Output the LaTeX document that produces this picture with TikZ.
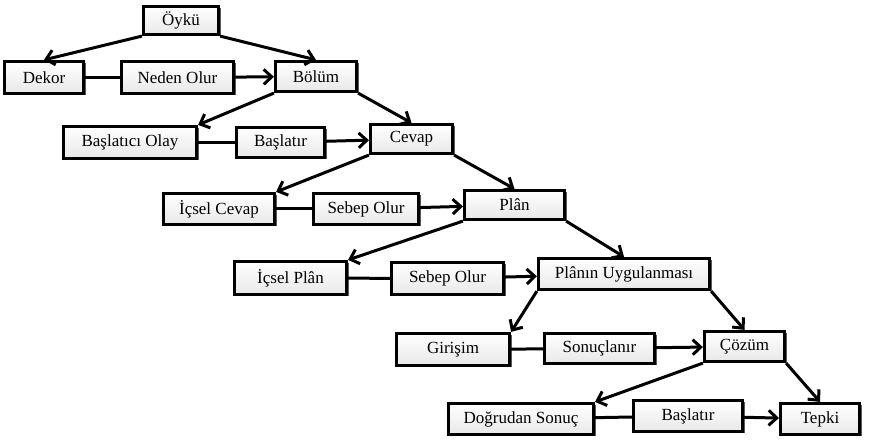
\documentclass[tikz,border=0pt]{standalone}
\usepackage{fontspec}
\setmainfont{Liberation Serif}
\usetikzlibrary{arrows.meta,shadows}

\begin{document}
\begin{tikzpicture}
        [x=1pt,y=-1pt,line width=3pt,
         every node/.style={draw,line width=3.2pt,inner sep=0pt,
           top color=white,bottom color=gray!18,
           drop shadow={shadow xshift=2pt,shadow yshift=-2pt,fill=black!65,opacity=1},
           font=\fontsize{17}{19}\selectfont},
         ok/.style={-{Straight Barb[length=8pt,width=15pt]}}]
        \useasboundingbox (0,0) rectangle (871,446);

        \node[minimum width=75pt,minimum height=28pt] (oyku) at (181,20.5) {Öykü};
        \node[minimum width=79pt,minimum height=32pt] (dekor) at (44,77.5) {Dekor};
        \node[minimum width=112pt,minimum height=32pt] (nedenolur) at (177.5,77.5) {Neden Olur};
        \node[minimum width=81pt,minimum height=30pt] (bolum) at (316,76.5) {Bölüm};
        \node[minimum width=133pt,minimum height=32pt] (baslaticiolay) at (130,142.5) {Başlatıcı Olay};
        \node[minimum width=88pt,minimum height=30pt] (baslatir1) at (280.5,142.5) {Başlatır};
        \node[minimum width=82pt,minimum height=29pt] (cevap) at (411.5,139) {Cevap};
        \node[minimum width=111pt,minimum height=31pt] (icselcevap) at (219,209) {İçsel Cevap};
        \node[minimum width=105pt,minimum height=31pt] (sebepolur1) at (366,209) {Sebep Olur};
        \node[minimum width=100pt,minimum height=29pt] (plan) at (514.5,205) {Plân};
        \node[minimum width=112pt,minimum height=33pt] (icselplan) at (290.5,278) {İçsel Plân};
        \node[minimum width=112pt,minimum height=32pt] (sebepolur2) at (447.5,278.5) {Sebep Olur};
        \node[minimum width=171pt,minimum height=31pt] (uygulama) at (624,274) {Plânın Uygulanması};
        \node[minimum width=113pt,minimum height=32pt] (girisim) at (453,349.5) {Girişim};
        \node[minimum width=110pt,minimum height=30pt] (sonuclanir) at (599.5,348.5) {Sonuçlanır};
        \node[minimum width=80pt,minimum height=30pt] (cozum) at (744.5,346.5) {Çözüm};
        \node[minimum width=145pt,minimum height=31pt] (dogrudan) at (521,419) {Doğrudan Sonuç};
        \node[minimum width=109pt,minimum height=31pt] (baslatir2) at (688,416) {Başlatır};
        \node[minimum width=79pt,minimum height=31pt] (tepki) at (820,419) {Tepki};

        % branches down
        \draw[ok] (oyku.south west) -- (dekor.north);
        \draw[ok] (oyku.south east) -- (bolum.north);
        \draw[ok] (bolum.south west) -- (baslaticiolay.north east);
        \draw[ok] (bolum.south east) -- (cevap.north);
        \draw[ok] (cevap.south west) -- (icselcevap.north east);
        \draw[ok] (cevap.south east) -- (plan.north);
        \draw[ok] (plan.south west) -- (icselplan.north east);
        \draw[ok] (plan.south east) -- (uygulama.north);
        \draw[ok] (uygulama.south west) -- (girisim.north east);
        \draw[ok] (uygulama.south east) -- (cozum.north);
        \draw[ok] (cozum.south west) -- (dogrudan.north east);
        \draw[ok] (cozum.south east) -- (tepki.north);
        % rows
        \draw (dekor) -- (nedenolur);
        \draw[ok] (nedenolur) -- (bolum);
        \draw (baslaticiolay) -- (baslatir1);
        \draw[ok] (baslatir1) -- (cevap);
        \draw (icselcevap) -- (sebepolur1);
        \draw[ok] (sebepolur1) -- (plan);
        \draw (icselplan) -- (sebepolur2);
        \draw[ok] (sebepolur2) -- (uygulama);
        \draw (girisim) -- (sonuclanir);
        \draw[ok] (sonuclanir) -- (cozum);
        \draw (dogrudan) -- (baslatir2);
        \draw[ok] (baslatir2) -- (tepki);
    \end{tikzpicture}
\end{document}
